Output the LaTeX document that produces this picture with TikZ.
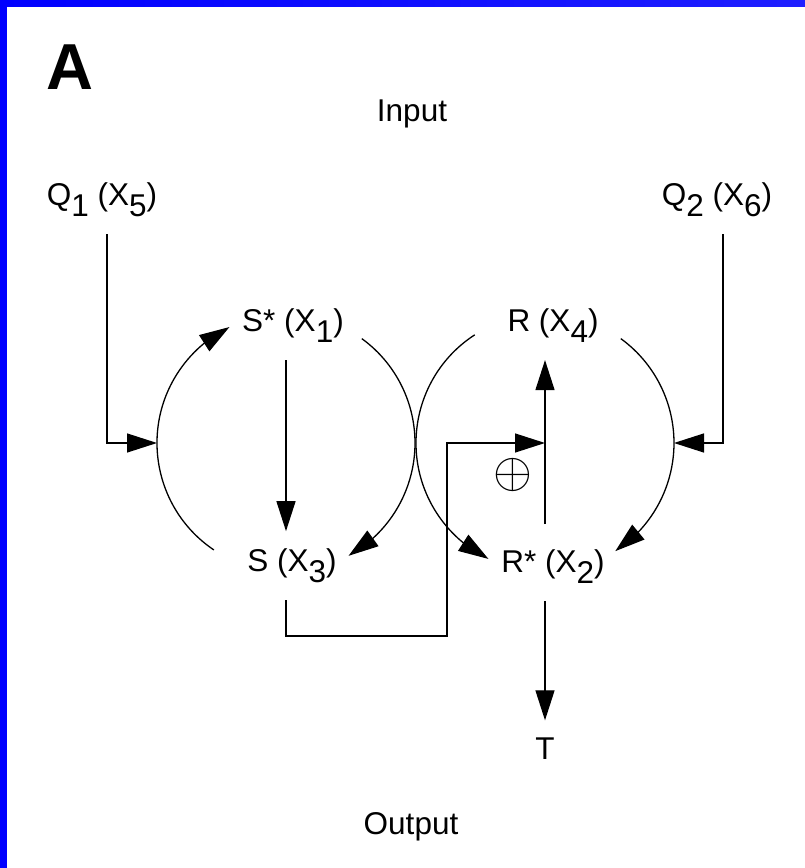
\documentclass[tikz,border=0pt]{standalone}
\usepackage{fix-cm}
\usepackage{fontspec}
\setmainfont{Liberation Sans}
\usetikzlibrary{positioning,arrows.meta,bending,calc}
\newcommand\dn[1]{\raisebox{-0.32em}{#1}}

\begin{document}
\begin{tikzpicture}[
  x=1pt, y=1pt,
  font=\fontsize{31.5}{36}\selectfont,
  >={Triangle[length=30pt, width=19pt]},
  lbl/.style={inner sep=0pt, outer xsep=0pt, outer ysep=18pt, anchor=base},
  cyc/.style={circle, inner sep=0pt, outer sep=0pt, minimum size=258pt},
  arr/.style={->, line width=1.3pt},
]

%% ---------- frame ----------
\useasboundingbox (0,0) rectangle (805,868);
\fill[blue] (0,0) rectangle (7,868);
\shade[left color=blue, right color=blue!88!white] (0,861) rectangle (805,868);

\node[anchor=base west, inner sep=0pt, font=\fontsize{65}{70}\selectfont\bfseries]
  (panel) at (46,778) {A};
\node[lbl] (inp)  at (412,746) {Input};
\node[lbl] (outp) at (411,33)  {Output};

%% ---------- the two cycles (anchors only, arcs drawn below) ----------
\node[cyc] (cycS) at (286,425) {};
\node[cyc] (cycR) at (545,425) {};

\node[lbl] (s1) at (293,536) {S* (X\dn{1})};
\node[lbl] (s3) at (292,296) {S (X\dn{3})};
\node[lbl] (r4) at (553,536) {R (X\dn{4})};
\node[lbl] (r2) at (553,295) {R* (X\dn{2})};

%% inputs and output
\node[lbl] (q1) at (102,662) {Q\dn{1} (X\dn{5})};
\node[lbl] (q2) at (717,662) {Q\dn{2} (X\dn{6})};
\node[lbl] (t)  at (545,108) {T};
\node (sum) at (513,393) {\fontsize{50}{50}\selectfont$\oplus$};

%% cycle arcs
\draw[arr] (cycS.236) arc[start angle=236, end angle=116, radius=129pt];
\draw[arr] (cycS.54)  arc[start angle=54,  end angle=-61, radius=129pt];
\draw[arr] (cycR.123) arc[start angle=123, end angle=244, radius=129pt];
\draw[arr] (cycR.54)  arc[start angle=54,  end angle=-57, radius=129pt];

%% straight connectors
\draw[arr] ([xshift=5pt]q1.south) |- (cycS.west);
\draw[arr] ([xshift=6pt]q2.south) |- (cycR.east);
\draw[arr] (s1.south -| cycS) -- (s3.north -| cycS);
\coordinate (fb) at (447,232);
\draw[arr] (s3.south -| cycS) |- (fb) |- (cycR.center);
\draw[arr, shorten <=8pt] (r2.north -| cycR) -- (r4.south -| cycR);
\draw[arr] (r2.south -| cycR) -- (t.north);

\end{tikzpicture}
\end{document}
